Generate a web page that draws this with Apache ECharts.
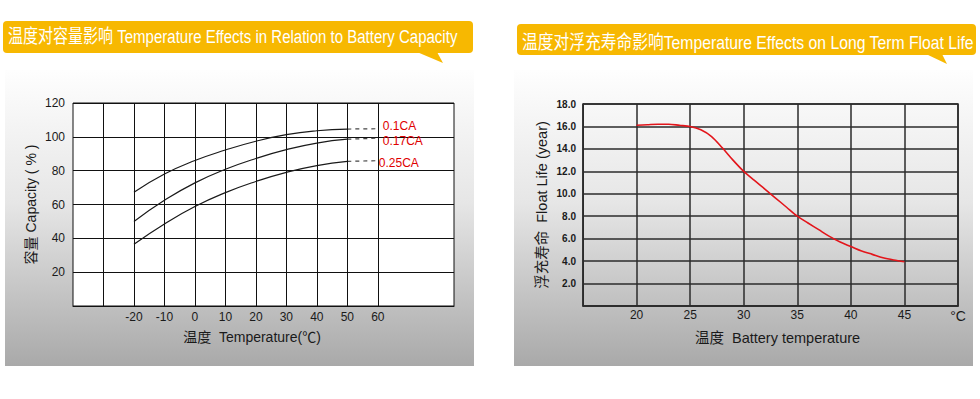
<!DOCTYPE html>
<html><head><meta charset="utf-8">
<script src="https://cdn.jsdelivr.net/npm/echarts@6/dist/echarts.min.js"></script>
<style>html,body{margin:0;padding:0;background:#fff}#c{width:980px;height:399px}</style>
</head><body><div id="c"></div>
<script>
// ---------- data ----------
const leftTitle = '温度对容量影响 Temperature Effects in Relation to Battery Capacity';
const rightTitle = '温度对浮充寿命影响Temperature Effects on Long Term Float Life';
const capTemps = [-20, -10, 0, 10, 20, 30, 40, 50];
const cap01 = [67.2, 78.0, 86.0, 92.2, 97.4, 101.3, 103.6, 104.6];
const cap017 = [50.0, 62.5, 72.8, 80.8, 87.2, 92.4, 96.3, 98.6];
const cap025 = [36.5, 48.5, 58.8, 67.0, 73.6, 79.0, 83.0, 85.5];
const extTemps = [50, 60];
const ext01 = [104.6, 104.8];
const ext017 = [98.6, 99.2];
const ext025 = [85.5, 85.9];
const rateLabels = ['0.1CA', '0.17CA', '0.25CA'];
const capGridX = [-30, -20, -10, 0, 10, 20, 30, 40, 50, 60];
const capLabelRange = [-20, 60];
const lifeTemps = [20, 21, 22, 23, 24, 25, 26, 27, 28, 29, 30, 31, 32, 33, 34, 35, 36, 37, 38, 39, 40, 41, 42, 43, 44, 45];
const lifeYears = [16.1, 16.15, 16.2, 16.2, 16.1, 16.0, 15.7, 15.1, 14.1, 13.0, 12.0, 11.2, 10.4, 9.6, 8.8, 8.0, 7.4, 6.8, 6.2, 5.7, 5.3, 4.9, 4.6, 4.3, 4.1, 3.95];
const lifeLabelRange = [20, 45];

// ---------- helpers ----------
const FONT = '"Liberation Sans", "Noto Sans CJK SC", sans-serif';
function fitScale(text, size, target) {
  const ctx = document.createElement('canvas').getContext('2d');
  ctx.font = size + 'px ' + FONT;
  return target / ctx.measureText(text).width;
}
const pair = (xs, ys) => xs.map((x, i) => [x, ys[i]]);
const panelFill = () => new echarts.graphic.LinearGradient(0, 0, 0, 1, [
  { offset: 0, color: '#fefefe' }, { offset: 0.45, color: '#e6e6e6' }, { offset: 1, color: '#a9a9a9' }]);
const YEL = '#f7b801';

const chart = echarts.init(document.getElementById('c'), null, { renderer: 'svg' });

const solidStyle = { color: '#1a1a1a', width: 1.2 };
const dashStyle = { color: '#444', width: 1.2, type: [4, 4] };
const capSets = [cap01, cap017, cap025];
const extSets = [ext01, ext017, ext025];
const labelOffsets = [[4, -3], [4, 2.5], [0, 2]];

const series = [];
capSets.forEach((d, i) => {
  const s = {
    type: 'line', xAxisIndex: 0, yAxisIndex: 0, smooth: true, symbol: 'none',
    data: pair(capTemps, d), lineStyle: solidStyle, silent: true
  };
  if (i === 0) {
    s.markLine = {
      silent: true, symbol: 'none', label: { show: false },
      lineStyle: { color: '#111', width: 1, type: 'solid' },
      data: capGridX.map(v => ({ xAxis: v }))
    };
  }
  series.push(s);
});
extSets.forEach((d, i) => {
  series.push({
    type: 'line', name: rateLabels[i], xAxisIndex: 0, yAxisIndex: 0, symbol: 'none',
    data: pair(extTemps, d), lineStyle: dashStyle, silent: true,
    endLabel: { show: true, formatter: '{a}', color: '#e00000', fontSize: 12, fontFamily: FONT,
      distance: 1, offset: labelOffsets[i] }
  });
});
series.push({
  type: 'line', xAxisIndex: 1, yAxisIndex: 1, smooth: 0.3, symbol: 'none',
  data: pair(lifeTemps, lifeYears), lineStyle: { color: '#e3151b', width: 1.6 }, silent: true
});

const ls = fitScale(leftTitle, 19, 450);
const rs = fitScale(rightTitle, 19, 452);

chart.setOption({
  animation: false,
  textStyle: { fontFamily: FONT },
  graphic: [
    { type: 'rect', z: -5, silent: true, shape: { x: 5, y: 70, width: 469, height: 296 }, style: { fill: panelFill() } },
    { type: 'rect', z: -5, silent: true, shape: { x: 514, y: 70, width: 459, height: 296 }, style: { fill: panelFill() } },
    { type: 'rect', z: 10, silent: true, shape: { x: 3, y: 21, width: 470, height: 32, r: 4 }, style: { fill: YEL } },
    { type: 'polygon', z: 10, silent: true, shape: { points: [[417, 52], [443, 63], [437, 52]] }, style: { fill: YEL } },
    { type: 'text', z: 11, silent: true, x: 8, y: 37, scaleX: ls,
      style: { text: leftTitle, font: '19px ' + FONT, fill: '#fff', align: 'left', verticalAlign: 'middle' } },
    { type: 'rect', z: 10, silent: true, shape: { x: 517, y: 24, width: 459, height: 31, r: 4 }, style: { fill: YEL } },
    { type: 'polygon', z: 10, silent: true, shape: { points: [[926, 54], [947, 64], [942, 54]] }, style: { fill: YEL } },
    { type: 'text', z: 11, silent: true, x: 522, y: 42.7, scaleX: rs,
      style: { text: rightTitle, font: '19px ' + FONT, fill: '#fff', align: 'left', verticalAlign: 'middle' } }
  ],
  grid: [
    { left: 73, top: 103, width: 381, height: 203, show: true, backgroundColor: '#fff', borderColor: '#111', borderWidth: 1 },
    { left: 583, top: 104, width: 375, height: 202, show: true, backgroundColor: 'transparent', borderColor: '#2b2b2b', borderWidth: 1.5 }
  ],
  xAxis: [
    { type: 'value', gridIndex: 0, min: -40, max: 85, interval: 10,
      axisLine: { show: true, lineStyle: { color: '#111' } }, axisTick: { show: false }, splitLine: { show: false },
      axisLabel: { color: '#1a1a1a', fontSize: 12, margin: 5,
        formatter: v => (v >= capLabelRange[0] && v <= capLabelRange[1]) ? String(v) : '' },
      name: '温度  Temperature(℃)', nameLocation: 'middle', nameGap: 23.5,
      nameTextStyle: { color: '#1a1a1a', fontSize: 14, padding: [0, 23, 0, 0] } },
    { type: 'value', gridIndex: 1, min: 15, max: 50, interval: 5,
      axisLine: { show: true, lineStyle: { color: '#2b2b2b', width: 1.5 } }, axisTick: { show: false },
      splitLine: { show: true, lineStyle: { color: '#2b2b2b', width: 1.5 } },
      axisLabel: { color: '#1a1a1a', fontSize: 12, margin: 3,
        formatter: v => v === 50 ? '{u|°C}' : ((v >= lifeLabelRange[0] && v <= lifeLabelRange[1]) ? String(v) : ''),
        rich: { u: { fontSize: 14, color: '#1a1a1a' } } },
      name: '温度  Battery temperature', nameLocation: 'middle', nameGap: 24.5,
      nameTextStyle: { color: '#1a1a1a', fontSize: 14.5, padding: [0, 0, 0, 14] } }
  ],
  yAxis: [
    { type: 'value', gridIndex: 0, min: 0, max: 120, interval: 20,
      axisLine: { show: true, lineStyle: { color: '#111' } }, axisTick: { show: false },
      splitLine: { show: true, lineStyle: { color: '#111', width: 1 } },
      axisLabel: { color: '#1a1a1a', fontSize: 12, margin: 8, formatter: v => v === 0 ? '' : String(v) },
      name: '容量 Capacity ( % )', nameLocation: 'middle', nameRotate: 90, nameGap: 35.5,
      nameTextStyle: { color: '#1a1a1a', fontSize: 14 } },
    { type: 'value', gridIndex: 1, min: 0, max: 18, interval: 2,
      axisLine: { show: true, lineStyle: { color: '#2b2b2b', width: 1 } }, axisTick: { show: false },
      splitLine: { show: true, lineStyle: { color: '#2b2b2b', width: 1.5 } },
      axisLabel: { color: '#1a1a1a', fontSize: 10, fontWeight: 'bold', margin: 7, formatter: v => v === 0 ? '' : v.toFixed(1) },
      name: '浮充寿命  Float Life (year)', nameLocation: 'middle', nameRotate: 90, nameGap: 33.5,
      nameTextStyle: { color: '#1a1a1a', fontSize: 14.5 } }
  ],
  series: series
});
</script>
</body></html>
